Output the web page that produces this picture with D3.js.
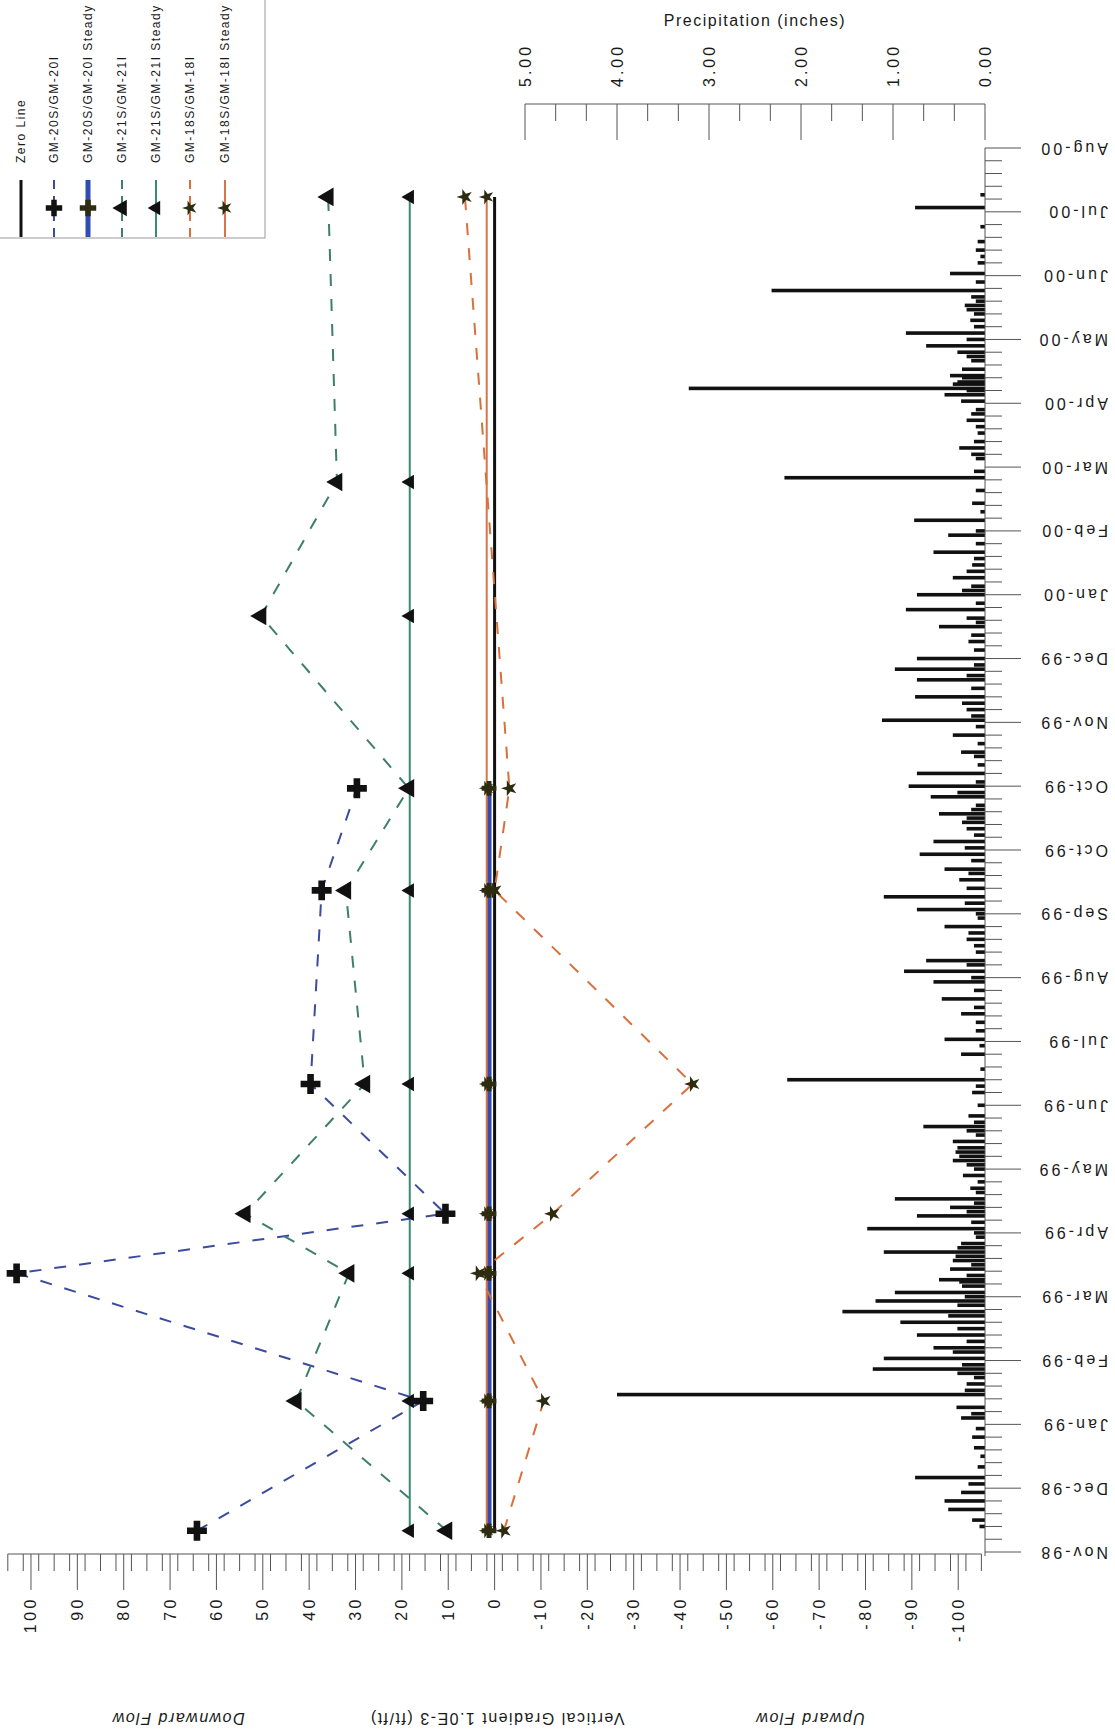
<!DOCTYPE html>
<html><head><meta charset="utf-8">
<script src="https://cdn.jsdelivr.net/npm/d3@7/dist/d3.min.js"></script>
<style>
body{margin:0;background:#fff}
svg{display:block}
text{font-family:"Liberation Sans",Arial,sans-serif;fill:#1a1a1a}
</style>
</head><body>
<svg id="chart" width="1115" height="1732"></svg>
<script>
// ---------------- DATA ----------------
const axisStart = "1998-11-05";       // first date-axis label
const axisEnd = "2000-08-26";         // last date-axis label
const dateTickStepDays = 30;
const dateTickLabels = ["Nov-98","Dec-98","Jan-99","Feb-99","Mar-99","Apr-99","May-99","Jun-99","Jul-99","Aug-99","Sep-99","Oct-99","Oct-99","Nov-99","Dec-99","Jan-00","Feb-00","Mar-00","Apr-00","May-00","Jun-00","Jul-00","Aug-00"];
const valueTicks = [100,90,80,70,60,50,40,30,20,10,0,-10,-20,-30,-40,-50,-60,-70,-80,-90,-100];
const valueTickLabels = ["100","90","80","70","60","50","40","30","20","10","0","-10","-20","-30","-40","-50","-60","-70","-80","-90","-100"];
const precipTicks = [5,4,3,2,1,0];
const precipTickLabels = ["5.00","4.00","3.00","2.00","1.00","0.00"];

const gm20Dates  = ["1998-11-15","1999-01-15","1999-03-16","1999-04-13","1999-06-13","1999-09-12","1999-10-30"];
const gm20Values = [64.2, 15.4, 103.1, 10.6, 39.7, 37.3, 29.7];
const gm20SteadyValue = 1.2;

const gm21Dates  = ["1998-11-15","1999-01-15","1999-03-16","1999-04-13","1999-06-13","1999-09-12","1999-10-30","2000-01-19","2000-03-22","2000-08-03"];
const gm21Values = [10.3, 42.8, 31.4, 53.8, 28.0, 32.1, 18.5, 50.4, 34.0, 35.9];
const gm21SteadyValue = 18.3;

const gm18Dates  = ["1998-11-15","1999-01-15","1999-03-16","1999-04-13","1999-06-13","1999-09-12","1999-10-30","2000-08-03"];
const gm18Values = [-2.0, -10.6, 3.5, -12.5, -42.7, 0.0, -3.2, 6.4];
const gm18SteadyValue = 1.7;

const zeroLineDates = ["1998-11-15","2000-08-03"];

const precipDates = ["2000-07-29","2000-06-28","2000-06-20","2000-06-13","2000-06-06","2000-05-31","2000-05-25","2000-05-11","2000-05-05","2000-05-02","2000-04-29","2000-04-20","2000-04-07","2000-03-24","2000-03-12","2000-03-04","2000-02-26","2000-02-18","2000-02-12","2000-02-06","2000-01-29","2000-01-22","2000-01-14","2000-01-07","1999-12-30","1999-12-25","1999-12-20","1999-12-12","1999-12-01","1999-11-24","1999-11-16","1999-11-06","1999-10-31","1999-10-26","1999-10-18","1999-10-11","1999-10-05","1999-09-29","1999-09-22","1999-09-17","1999-09-09","1999-09-03","1999-08-26","1999-08-20","1999-08-10","1999-08-05","1999-07-31","1999-07-23","1999-07-16","1999-07-04","1999-06-27","1999-06-15","1999-06-09","1999-05-29","1999-05-24","1999-05-17","1999-05-12","1999-05-08","1999-05-01","1999-04-25","1999-04-20","1999-04-16","1999-04-12","1999-04-06","1999-03-30","1999-03-26","1999-03-22","1999-03-18","1999-03-13","1999-03-07","1999-03-03","1999-02-26","1999-02-21","1999-02-15","1999-02-09","1999-02-04","1999-01-30","1999-01-23","1999-01-18","1999-01-12","1999-01-07","1998-12-29","1998-12-10","1998-12-03","1998-11-29","1998-11-25","1998-11-20",
"1998-12-15","1998-12-20","1999-01-02","1999-01-26","1999-02-12","1999-02-18","1999-03-10","1999-03-15","1999-03-20","1999-03-28","1999-04-02","1999-04-09","1999-04-28","1999-05-04","1999-05-20","1999-06-03","1999-06-20","1999-07-08","1999-07-27","1999-08-14","1999-08-30","1999-09-13","1999-09-26","1999-10-08","1999-10-14","1999-10-22","1999-10-28","1999-11-10","1999-11-28","1999-12-06","1999-12-16","2000-01-03","2000-01-18","2000-01-25","2000-02-02","2000-02-22","2000-03-08","2000-03-18","2000-04-02","2000-04-14","2000-04-25","2000-05-08","2000-05-14","2000-05-18","2000-05-28","2000-06-03","2000-06-17","2000-06-24","2000-07-03","2000-07-09","2000-07-20","2000-08-04",
"1998-11-17","1998-12-07","1998-12-24","1999-01-09","1999-01-20","1999-01-28","1999-02-01","1999-02-07","1999-02-24","1999-03-01","1999-03-05","1999-03-12","1999-03-24","1999-04-04","1999-04-14","1999-04-18","1999-04-23","1999-05-06","1999-05-10","1999-05-14","1999-05-22","1999-05-26","1999-06-12","1999-07-01","1999-07-12","1999-07-19","1999-08-02","1999-08-08","1999-08-17","1999-08-23","1999-09-01","1999-09-06","1999-09-20","1999-10-02","1999-10-16","1999-10-20","1999-11-02","1999-11-14","1999-11-20","1999-12-03","1999-12-09","1999-12-22","1999-12-27","2000-01-10","2000-01-16","2000-01-31","2000-02-09","2000-02-15","2000-02-28","2000-03-27","2000-04-04","2000-04-10","2000-04-17","2000-04-23","2000-05-04","2000-05-07","2000-05-10","2000-05-20","2000-05-22","2000-06-09","2000-06-11","2000-06-15","2000-07-06","2000-07-13"];
const precipValues = [0.76,0.38,2.32,0.22,0.16,0.86,0.64,0.38,3.22,0.44,0.26,0.20,0.28,2.18,0.14,0.77,0.40,0.56,0.14,0.35,0.74,0.86,0.50,0.18,0.74,0.98,0.74,0.76,1.12,0.35,0.26,0.74,0.83,0.59,0.50,0.20,0.56,0.71,0.44,0.28,1.10,0.74,0.44,0.20,0.64,0.88,0.56,0.47,0.26,0.44,0.26,2.15,0.14,0.18,0.67,0.35,0.32,0.35,0.24,0.16,0.98,0.38,0.74,1.28,0.26,1.10,0.35,0.38,0.50,0.98,1.19,1.55,0.92,0.74,0.56,1.10,1.22,0.20,4.00,0.31,0.26,0.14,0.76,0.26,0.44,0.40,0.14,
0.08,0.05,0.10,0.12,0.20,0.30,0.25,0.20,0.15,0.30,0.10,0.15,0.08,0.12,0.10,0.08,0.05,0.10,0.12,0.10,0.08,0.20,0.15,0.12,0.25,0.10,0.30,0.08,0.10,0.20,0.15,0.12,0.20,0.10,0.15,0.10,0.05,0.10,0.10,0.08,0.10,0.30,0.25,0.15,0.20,0.12,0.15,0.10,0.08,0.10,0.05,0.05,
0.06,0.18,0.12,0.15,0.22,0.30,0.25,0.35,0.40,0.30,0.22,0.28,0.32,0.12,0.20,0.12,0.10,0.20,0.28,0.30,0.20,0.12,0.10,0.06,0.10,0.12,0.15,0.20,0.12,0.18,0.10,0.22,0.18,0.22,0.20,0.15,0.10,0.12,0.08,0.15,0.25,0.20,0.12,0.15,0.10,0.25,0.20,0.12,0.10,0.12,0.15,0.12,0.10,0.15,0.20,0.35,0.25,0.20,0.30,0.12,0.20,0.10,0.05,0.08];

const legendLabels = ["Zero Line","GM-20S/GM-20I","GM-20S/GM-20I Steady","GM-21S/GM-21I","GM-21S/GM-21I Steady","GM-18S/GM-18I","GM-18S/GM-18I Steady"];
const titles = {precip:"Precipitation (inches)", down:"Downward Flow", mid:"Vertical Gradient 1.0E-3 (ft/ft)", up:"Upward Flow"};

// ---------------- STYLE ----------------
const C = {
  gm20: "#3c4b9e", gm20s: "#2f4db5",
  gm21: "#3d7f6c", gm21s: "#3a8a72",
  gm18: "#d9703c", gm18s: "#d8744a",
  zero: "#111", axis: "#555", mark: "#111", olive: "#2e2c10"
};
const parse = d3.utcParse("%Y-%m-%d");
const svg = d3.select("#chart");

const yDate = d3.scaleUtc().domain([parse(axisStart), parse(axisEnd)]).range([1552, 148]);
const xVal = d3.scaleLinear().domain([105, -105]).range([7.8, 981.4]);
const xPrecip = d3.scaleLinear().domain([0, 5]).range([985, 525]);

// ---------------- PRECIP BARS ----------------
svg.append("g").selectAll("rect").data(precipDates.map((d,i)=>({d:parse(d), v:precipValues[i]})))
  .join("rect")
  .attr("x", d => xPrecip(d.v)).attr("width", d => xPrecip(0) - xPrecip(d.v))
  .attr("y", d => yDate(d.d) - 1.8).attr("height", 3.6)
  .attr("fill", "#111");

// ---------------- AXES ----------------
const gAx = svg.append("g").attr("stroke", C.axis).attr("stroke-width", 1).attr("fill","none");
// date axis
gAx.append("line").attr("x1",985).attr("x2",985).attr("y1",yDate.range()[1]).attr("y2",1556);
const start = parse(axisStart);
const majorDates = dateTickLabels.map((l,k) => d3.utcDay.offset(start, dateTickStepDays*k));
const minorDates = d3.range(0, 660, 6).map(k => d3.utcDay.offset(start, k)).filter((d,i)=> i % 5 !== 0);
gAx.selectAll(".dmaj").data(majorDates).join("line").attr("class","dmaj").attr("x1",985).attr("x2",1021).attr("y1",d=>yDate(d)).attr("y2",d=>yDate(d));
gAx.selectAll(".dmin").data(minorDates).join("line").attr("class","dmin").attr("x1",985).attr("x2",1002).attr("y1",d=>yDate(d)).attr("y2",d=>yDate(d));
svg.append("g").selectAll("text").data(majorDates).join("text")
  .attr("transform", d => `translate(1108,${yDate(d)}) rotate(180)`)
  .attr("text-anchor","start").attr("dominant-baseline","central")
  .attr("font-size",16).attr("letter-spacing",3)
  .text((d,i)=>dateTickLabels[i]);

// value axis
gAx.append("line").attr("x1",xVal(105)).attr("x2",xVal(-105)).attr("y1",1554).attr("y2",1554);
const minorVals = d3.range(-105, 105.01, 10/3).map(v=>Math.round(v*1000)/1000).filter(v => Math.abs(v % 10) > 0.01);
gAx.selectAll(".vmin").data(minorVals).join("line").attr("class","vmin").attr("x1",d=>xVal(d)).attr("x2",d=>xVal(d)).attr("y1",1554).attr("y2",1571);
gAx.selectAll(".vmaj").data(valueTicks).join("line").attr("class","vmaj").attr("x1",d=>xVal(d)).attr("x2",d=>xVal(d)).attr("y1",1554).attr("y2",1590);
svg.append("g").selectAll("text").data(valueTicks).join("text")
  .attr("transform", d => `translate(${xVal(d)},1596) rotate(-90)`)
  .attr("text-anchor","end").attr("dominant-baseline","central")
  .attr("font-size",16).attr("letter-spacing",3.5)
  .text((d,i)=>valueTickLabels[i]);

// precipitation axis
gAx.append("line").attr("x1",xPrecip(5)).attr("x2",xPrecip(0)).attr("y1",104).attr("y2",104);
const pMinor = d3.range(0, 5, 1/3).filter((v,i)=> i % 3 !== 0);
gAx.selectAll(".pmin").data(pMinor).join("line").attr("class","pmin").attr("x1",d=>xPrecip(d)).attr("x2",d=>xPrecip(d)).attr("y1",104).attr("y2",121);
gAx.selectAll(".pmaj").data(precipTicks).join("line").attr("class","pmaj").attr("x1",d=>xPrecip(d)).attr("x2",d=>xPrecip(d)).attr("y1",104).attr("y2",140);
svg.append("g").selectAll("text").data(precipTicks).join("text")
  .attr("transform", d => `translate(${xPrecip(d)},87) rotate(-90)`)
  .attr("text-anchor","start").attr("dominant-baseline","central")
  .attr("font-size",16).attr("letter-spacing",3)
  .text((d,i)=>precipTickLabels[i]);
svg.append("text").attr("x",755).attr("y",26).attr("text-anchor","middle")
  .attr("font-size",16).attr("letter-spacing",1.5).text(titles.precip);

// bottom titles (upside down)
[[178,titles.down,true],[497,titles.mid,false],[810,titles.up,true]].forEach(([x,t,it])=>{
  svg.append("text").attr("transform",`translate(${x},1718) rotate(180)`)
    .attr("text-anchor","middle").attr("dominant-baseline","central")
    .attr("font-size",16).attr("letter-spacing",1.5)
    .attr("font-style", it ? "italic" : "normal").text(t);
});

// ---------------- SERIES ----------------
const line = d3.line().x(d=>xVal(d.v)).y(d=>yDate(d.d));
const pts = (dates, vals) => dates.map((d,i)=>({d:parse(d), v: Array.isArray(vals) ? vals[i] : vals}));

const g = svg.append("g").attr("fill","none");
// steady lines
g.append("path").datum(pts([gm21Dates[0], gm21Dates[gm21Dates.length-1]], gm21SteadyValue)).attr("d",line).attr("stroke",C.gm21s).attr("stroke-width",2);
g.append("path").datum(pts([gm20Dates[0], gm20Dates[gm20Dates.length-1]], gm20SteadyValue)).attr("d",line).attr("stroke",C.gm20s).attr("stroke-width",5);
g.append("path").datum(pts([gm18Dates[0], gm18Dates[gm18Dates.length-1]], gm18SteadyValue)).attr("d",line).attr("stroke",C.gm18s).attr("stroke-width",2);
g.append("path").datum(pts(zeroLineDates, 0)).attr("d",line).attr("stroke",C.zero).attr("stroke-width",3);
// dashed measured lines
const dash = "12,13";
g.append("path").datum(pts(gm20Dates, gm20Values)).attr("d",line).attr("stroke",C.gm20).attr("stroke-width",2).attr("stroke-dasharray",dash);
g.append("path").datum(pts(gm21Dates, gm21Values)).attr("d",line).attr("stroke",C.gm21).attr("stroke-width",2).attr("stroke-dasharray",dash);
g.append("path").datum(pts(gm18Dates, gm18Values)).attr("d",line).attr("stroke",C.gm18).attr("stroke-width",2).attr("stroke-dasharray",dash);

// markers
const sym = {
  plus: (s)=>d3.symbol(d3.symbolCross, s)(),
  tri: (s)=>d3.symbol(d3.symbolTriangle, s)(),
  star: (s)=>d3.symbol(d3.symbolStar, s)()
};
function markers(data, type, size, color){
  svg.append("g").selectAll("path").data(data).join("path")
    .attr("transform", d => `translate(${xVal(d.v)},${yDate(d.d)}) rotate(-90)`)
    .attr("d", sym[type](size)).attr("fill", color);
}
markers(pts(gm21Dates, gm21SteadyValue), "tri", 90, C.mark);
markers(pts(gm20Dates, gm20SteadyValue), "plus", 120, C.olive);
markers(pts(gm18Dates, gm18SteadyValue), "star", 70, C.olive);
markers(pts(gm20Dates, gm20Values), "plus", 220, C.mark);
markers(pts(gm21Dates, gm21Values), "tri", 150, C.mark);
markers(pts(gm18Dates, gm18Values), "star", 80, C.olive);

// ---------------- LEGEND ----------------
const lg = svg.append("g");
lg.append("rect").attr("x",-2).attr("y",-2).attr("width",267).attr("height",240).attr("fill","#fff").attr("stroke","#999");
const legendItems = [
  {stroke:C.zero, w:3, dash:null, m:null},
  {stroke:C.gm20, w:2, dash:"9,7", m:"plus", ms:150, mc:C.mark},
  {stroke:C.gm20s, w:5, dash:null, m:"plus", ms:150, mc:C.olive},
  {stroke:C.gm21, w:2, dash:"9,7", m:"tri", ms:120, mc:C.mark},
  {stroke:C.gm21s, w:2, dash:null, m:"tri", ms:90, mc:C.mark},
  {stroke:C.gm18, w:2, dash:"9,7", m:"star", ms:70, mc:C.olive},
  {stroke:C.gm18s, w:2, dash:null, m:"star", ms:70, mc:C.olive}
];
const legendX = [21, 54, 88, 122, 156, 190, 225];
legendItems.forEach((it,i)=>{
  const x = legendX[i];
  lg.append("line").attr("x1",x).attr("x2",x).attr("y1",180).attr("y2",237)
    .attr("stroke",it.stroke).attr("stroke-width",it.w).attr("stroke-dasharray",it.dash);
  if (it.m) lg.append("path").attr("transform",`translate(${x},208) rotate(-90)`).attr("d",sym[it.m](it.ms)).attr("fill",it.mc);
  lg.append("text").attr("transform",`translate(${x},163) rotate(-90)`)
    .attr("text-anchor","start").attr("dominant-baseline","central")
    .attr("font-size",12).attr("letter-spacing",1.5).text(legendLabels[i]);
});
</script>
</body></html>
